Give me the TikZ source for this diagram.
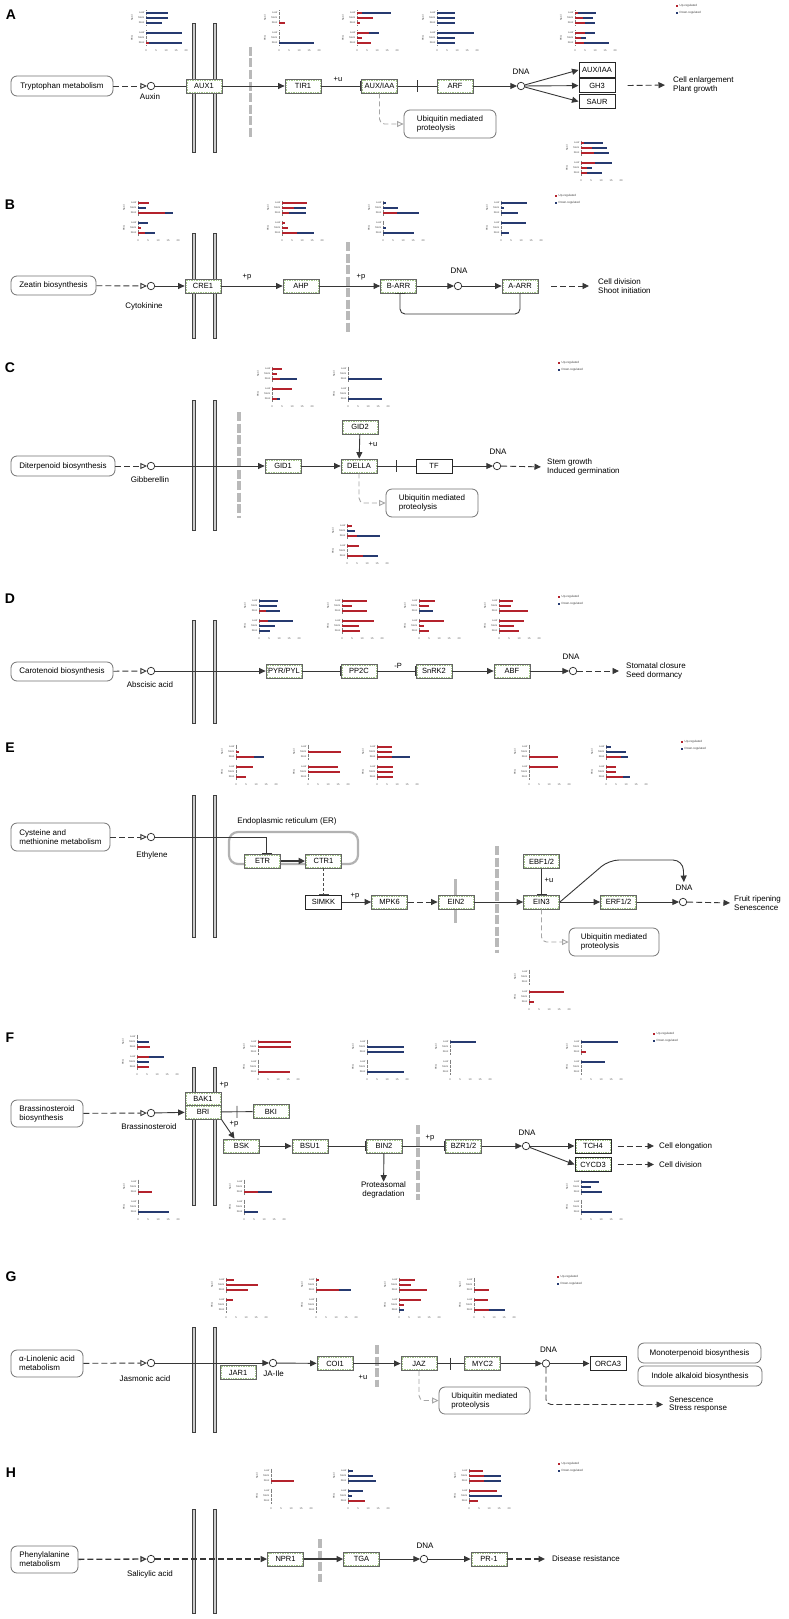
\documentclass[tikz,border=0pt]{standalone}
\usepackage{fontspec}
\setmainfont{Liberation Sans}
\usetikzlibrary{arrows.meta,decorations.markings}

\definecolor{upred}{RGB}{180,35,45}
\definecolor{downblue}{RGB}{38,58,112}
\definecolor{hlgreen}{RGB}{165,200,140}
\definecolor{edge}{RGB}{55,55,55}

\tikzset{
  pathbox/.style={draw=black!55, line width=0.8pt, rounded corners=6pt, fill=white, inner sep=2pt, font=\fontsize{8}{9}\selectfont},
  gene/.style={draw=black!60, line width=0.8pt, fill=white, minimum width=36pt, minimum height=14pt, inner sep=0pt, font=\fontsize{7.5}{8}\selectfont},
  geneplain/.style={gene, draw=black!85, line width=1pt},
  cpd/.style={circle, draw=black!85, line width=0.7pt, fill=white, minimum size=7.5pt, inner sep=0pt},
  lbl/.style={inner sep=0pt, font=\fontsize{8}{8.8}\selectfont},
  small/.style={inner sep=0pt, font=\fontsize{7.5}{8}\selectfont},
  panel/.style={inner sep=0pt, font=\fontsize{14}{16}\selectfont\bfseries},
  conn/.style={draw=edge, line width=0.9pt},
  act/.style={conn, -{Triangle[length=6.5pt,width=6pt]}},
  indact/.style={act, dash pattern=on 6pt off 3pt},
  inh/.style={conn, -{Bar[width=10pt,line width=0.9pt]}},
  feed/.style={conn, dash pattern=on 6pt off 3pt, -{Triangle[open,length=6.5pt,width=6pt]}},
  ubi/.style={draw=gray!70, line width=0.9pt, dash pattern=on 5pt off 3pt, -{Triangle[open,length=6.5pt,width=6pt]}, rounded corners=5pt},
  midbar/.style={postaction={decorate}, decoration={markings, mark=at position 0.5 with {\draw[edge, line width=0.9pt] (0,-6) -- (0,6);}}},
  membrane/.style={fill=gray!40, draw=gray!50!black, line width=0.5pt},
  sep/.style={draw=gray!55, line width=3.2pt, dash pattern=on 9pt off 2.5pt},
  hl/.style={draw=hlgreen, densely dotted, line width=0.7pt},
  chlab/.style={inner sep=0pt, font=\fontsize{2.6}{3}\selectfont, text=black!70},
  leglab/.style={inner sep=0pt, font=\fontsize{3}{3.5}\selectfont, text=black!75},
  upbar/.style={draw=upred, line width=1.2pt},
  downbar/.style={draw=downblue, line width=1.2pt},
}

% pair of membrane strips between two heights
\newcommand{\membranes}[2]{%
  \draw[membrane] (192.5,#1) rectangle (195.5,#2);
  \draw[membrane] (213.5,#1) rectangle (216.5,#2);}

% small expression chart: origin x, origin y, six red/blue bar lengths
\newcommand{\expchart}[3]{%
  \begin{scope}[shift={(#1,#2)}]
    \node[chlab, rotate=90] at (2,5) {NaCl};
    \node[chlab, rotate=90] at (2,25) {PEG};
    \foreach \lab/\yy in {Leaf/0,Stem/5,Root/10,Leaf/20,Stem/25,Root/30}
      \node[chlab, anchor=east] at (14.5,\yy) {\lab};
    \draw[black!50, densely dotted, line width=0.3pt] (16,-2.5) -- (16,12.5) (16,17.5) -- (16,32.5);
    \foreach \t [count=\k from 0] in {0,5,10,15,20}
      \node[chlab] at (16+10*\k,38) {\t};
    \foreach \rr/\bb [count=\i from 0] in {#3} {
      \pgfmathsetmacro{\yy}{5*\i+5*(\i>2)}
      \draw[upbar] (16,\yy) -- ++(\rr,0);
      \draw[downbar] (16+\rr,\yy) -- ++(\bb,0);
    }
  \end{scope}}

% colour key
\newcommand{\legendat}[2]{%
  \fill[upred] (#1,#2) ++(-0.8,-0.8) rectangle ++(1.6,1.6);
  \node[leglab, anchor=west] at (#1+2.5,#2) {Up-regulated};
  \fill[downblue] (#1,#2+7) ++(-0.8,-0.8) rectangle ++(1.6,1.6);
  \node[leglab, anchor=west] at (#1+2.5,#2+7) {Down-regulated};}

\begin{document}
\begin{tikzpicture}[x=1pt,y=-1pt]
\fill[white] (0,0) rectangle (789,1619);
\useasboundingbox (0,0) rectangle (789,1619);

%% ---------------- A: auxin ----------------
\node[panel] (labA) at (11,15) {A};
\draw[sep] (250.5,47) -- (250.5,137);
\membranes{23}{152}
\node[pathbox, minimum width=102pt, minimum height=20pt] (trp) at (62,86) {Tryptophan metabolism};
\node[cpd] (auxin) at (151,86) {};
\node[lbl] (auxinl) at (150,97) {Auxin};
\node[gene] (aux1) at (204,86) {AUX1};
\node[gene] (tir1) at (303,86) {TIR1};
\node[small] (plusuA) at (338,79) {+u};
\node[gene] (auxiaa) at (379.5,86) {AUX/IAA};
\node[gene] (arf) at (455,86) {ARF};
\node[cpd] (dnaA) at (521,86) {};
\node[lbl] (dnaAl) at (521,72) {DNA};
\node[geneplain] (auxiaa2) at (597,70) {AUX/IAA};
\node[geneplain] (gh3) at (597,85.5) {GH3};
\node[geneplain] (saur) at (597,101.5) {SAUR};
\node[lbl, anchor=west, align=left] (outA) at (673,85) {Cell enlargement\\Plant growth};
\node[pathbox, minimum width=92pt, minimum height=28pt, align=left] (ubiA) at (450,124) {Ubiquitin mediated\\proteolysis};
\draw[feed] (trp) -- (auxin);
\draw[conn] (auxin) -- (aux1);
\draw[act] (aux1) -- (tir1);
\draw[inh] (tir1) -- (auxiaa);
\draw[conn, midbar] (auxiaa) -- (arf);
\draw[act] (arf) -- (dnaA);
\draw[act] (dnaA) -- (auxiaa2.west);
\draw[act] (dnaA) -- (gh3);
\draw[act] (dnaA) -- (saur.west);
\draw[indact, shorten >=8pt] ([xshift=12pt]gh3.east) -- (outA.west);
\draw[ubi] (auxiaa.south) |- (ubiA.west);
\expchart{130}{13}{0/22,0/22,0/16,0/36,0/0,3/33}
\expchart{263}{13}{0/0,0/0,6/0,0/0,0/0,0/35}
\expchart{341}{13}{5/29,16/0,3/0,12/10,5/0,14/0}
\expchart{421}{13}{0/18,0/18,0/18,0/37,0/18,0/18}
\expchart{559}{13}{3/18,8/10,10/10,10/10,6/5,9/25}
\expchart{565}{143}{3/19,11/15,13/15,14/17,6/5,6/15}
\legendat{677}{6}

%% ---------------- B: cytokinine ----------------
\node[panel] (labB) at (10,205) {B};
\draw[sep] (348,242) -- (348,333);
\membranes{233}{338}
\node[pathbox, minimum width=85pt, minimum height=19pt] (zea) at (53.5,285.5) {Zeatin biosynthesis};
\node[cpd] (cyto) at (151,286) {};
\node[lbl] (cytol) at (144,306) {Cytokinine};
\node[gene] (cre1) at (203,286) {CRE1};
\node[small] (pB1) at (247,277) {+p};
\node[gene] (ahp) at (301,286) {AHP};
\node[small] (pB2) at (361,277) {+p};
\node[gene] (barr) at (398.5,286) {B-ARR};
\node[cpd] (dnaB) at (458,286) {};
\node[lbl] (dnaBl) at (459,271) {DNA};
\node[gene] (aarr) at (520,286) {A-ARR};
\node[lbl, anchor=west, align=left] (outB) at (598,286) {Cell division\\Shoot initiation};
\coordinate (fbB) at (400,314);
\draw[feed] (zea) -- (cyto);
\draw[act] (cyto) -- (cre1);
\draw[act] (cre1) -- (ahp);
\draw[act] (ahp) -- (barr);
\draw[act] (barr) -- (dnaB);
\draw[act] (dnaB) -- (aarr);
\draw[inh, rounded corners=5pt] (aarr.south) |- (fbB) -- (fbB |- barr.south);
\draw[indact, shorten >=9pt] ([xshift=13pt]aarr.east) -- (outB.west);
\expchart{122}{203}{11/0,0/8,27/8,0/10,3/0,7/10}
\expchart{266}{203}{25/0,12/12,7/17,3/0,6/0,15/17}
\expchart{367}{203}{0/3,0/15,14/22,0/0,0/3,0/31}
\expchart{485}{203}{0/26,0/3,0/17,0/25,0/0,0/8}
\legendat{556}{196}

%% ---------------- C: gibberellin ----------------
\node[panel] (labC) at (10,368) {C};
\draw[sep] (239,412) -- (239,518);
\membranes{400}{530}
\node[pathbox, minimum width=104pt, minimum height=20pt] (dit) at (63,466) {Diterpenoid biosynthesis};
\node[cpd] (gib) at (151,466) {};
\node[lbl] (gibl) at (150,480) {Gibberellin};
\node[gene] (gid1) at (283,466) {GID1};
\node[gene] (della) at (359,466) {DELLA};
\node[gene] (gid2) at (360,427) {GID2};
\node[small] (uC) at (373,444) {+u};
\node[geneplain] (tf) at (434,466) {TF};
\node[cpd] (dnaC) at (497,466) {};
\node[lbl] (dnaCl) at (498,452) {DNA};
\node[lbl, anchor=west, align=left] (outC) at (547,467) {Stem growth\\Induced germination};
\node[pathbox, minimum width=92pt, minimum height=28pt, align=left] (ubiC) at (432,503) {Ubiquitin mediated\\proteolysis};
\draw[feed] (dit) -- (gib);
\draw[act] (gib) -- (gid1);
\draw[act] (gid1) -- (della);
\draw[act] (gid2) -- (della);
\draw[conn, midbar] (della) -- (tf);
\draw[act] (tf) -- (dnaC);
\draw[indact, shorten >=6pt] (dnaC) -- (outC.west);
\draw[ubi] (della.south) |- (ubiC.west);
\expchart{256}{369}{10/0,5/0,8/17,20/0,0/0,5/3}
\expchart{332}{369}{0/0,0/0,0/34,0/0,0/0,0/34}
\expchart{331}{526}{5/0,0/8,10/23,12/0,0/0,16/15}
\legendat{559}{363}

%% ---------------- D: abscisic acid ----------------
\node[panel] (labD) at (10,599) {D};
\membranes{620}{723}
\node[pathbox, minimum width=102pt, minimum height=19pt] (car) at (62,671.5) {Carotenoid biosynthesis};
\node[cpd] (aba) at (151,671) {};
\node[lbl] (abal) at (150,685) {Abscisic acid};
\node[gene] (pyr) at (284,671) {PYR/PYL};
\node[gene] (pp2c) at (359,671) {PP2C};
\node[small] (pD) at (398,666) {-P};
\node[gene] (snrk2) at (434,671) {SnRK2};
\node[gene] (abf) at (512,671) {ABF};
\node[cpd] (dnaD) at (573,671) {};
\node[lbl] (dnaDl) at (571,657) {DNA};
\node[lbl, anchor=west, align=left] (outD) at (626,671) {Stomatal closure\\Seed dormancy};
\draw[feed] (car) -- (aba);
\draw[act] (aba) -- (pyr);
\draw[inh] (pyr) -- (pp2c);
\draw[inh] (pp2c) -- (snrk2);
\draw[act] (snrk2) -- (abf);
\draw[act] (abf) -- (dnaD);
\draw[indact, shorten >=7pt] (dnaD) -- (outD.west);
\expchart{243}{601}{0/19,0/18,7/14,9/25,0/16,0/11}
\expchart{326}{601}{25/0,10/0,25/0,32/0,17/0,18/0}
\expchart{403}{601}{16/0,10/0,0/14,25/0,5/0,10/0}
\expchart{483}{601}{14/0,12/0,29/0,25/0,15/0,20/0}
\legendat{559}{597}

%% ---------------- E: ethylene ----------------
\node[panel] (labE) at (10,748) {E};
\draw[sep] (497,846) -- (497,953);
\membranes{795}{937}
\node[draw=gray!60, line width=2.2pt, rounded corners=9pt, minimum width=129pt, minimum height=32pt] (er) at (293.5,848) {};
\node[lbl] (erl) at (287,821) {Endoplasmic reticulum (ER)};
\draw[gray!55, line width=3pt] (455,879) -- (455,923);
\node[pathbox, minimum width=99pt, minimum height=28pt, align=left] (cys) at (60.5,837) {Cysteine and\\methionine metabolism};
\node[cpd] (eth) at (151,837) {};
\node[lbl] (ethl) at (152,855) {Ethylene};
\node[gene] (etr) at (262.5,861) {ETR};
\node[gene] (ctr1) at (323.5,861) {CTR1};
\node[geneplain] (simkk) at (323.5,902) {SIMKK};
\node[small] (pE) at (355,896) {+p};
\node[gene] (mpk6) at (389.5,902) {MPK6};
\node[gene] (ein2) at (456,902) {EIN2};
\node[gene] (ein3) at (541.5,902) {EIN3};
\node[gene] (ebf) at (541.5,861.5) {EBF1/2};
\node[small] (uE) at (549,880) {+u};
\node[gene] (erf) at (618.5,902) {ERF1/2};
\node[cpd] (dnaE) at (683,902) {};
\node[lbl] (dnaEl) at (684,888) {DNA};
\node[lbl, anchor=west, align=left] (outE) at (734,903) {Fruit ripening\\Senescence};
\node[pathbox, minimum width=90pt, minimum height=28pt, align=left] (ubiE) at (614,942) {Ubiquitin mediated\\proteolysis};
\draw[feed] (cys) -- (eth);
\draw[inh] (eth) -| ([xshift=4pt]etr.north);
\draw[act, line width=1.8pt] (etr) -- (ctr1);
\draw[inh, dash pattern=on 3pt off 2pt, draw=gray!60!black] (ctr1) -- (simkk);
\draw[act] (simkk) -- (mpk6);
\draw[indact] (mpk6) -- (ein2);
\draw[act] (ein2) -- (ein3);
\draw[inh] (ebf) -- (ein3);
\draw[act] (ein3) -- (erf);
\draw[act] (erf) -- (dnaE);
\draw[act, rounded corners=10pt, shorten >=3pt] (ein3.east) -- (609,860) -- (683,860) -- (dnaEl.north);
\draw[indact, shorten >=4pt] (dnaE) -- (outE.west);
\draw[ubi] (ein3.south) |- (ubiE.west);
\expchart{220}{747}{0/0,3/0,18/10,17/0,0/0,10/0}
\expchart{292}{747}{0/0,33/0,0/0,30/0,32/0,0/0}
\expchart{361}{747}{15/0,15/0,15/18,16/0,16/0,16/0}
\expchart{513}{747}{0/0,0/0,29/0,29/0,0/0,0/0}
\expchart{590}{747}{0/5,0/20,15/7,10/0,10/0,17/7}
\expchart{513}{972}{0/0,0/0,0/0,35/0,0/0,5/0}
\legendat{682}{742}

%% ---------------- F: brassinosteroid ----------------
\node[panel] (labF) at (10,1038) {F};
\draw[sep] (418,1125) -- (418,1200);
\membranes{1067}{1205}
\node[pathbox, minimum width=72pt, minimum height=27pt, align=left] (brs) at (47,1113.5) {Brassinosteroid\\biosynthesis};
\node[cpd] (brc) at (151,1113) {};
\node[lbl] (brcl) at (149,1127) {Brassinosteroid};
\node[gene, minimum height=13pt] (bak1) at (203,1098.5) {BAK1};
\node[gene] (bri) at (203,1112) {BRI};
\node[small] (pF1) at (224,1085) {+p};
\node[gene] (bki) at (271,1111.5) {BKI};
\node[small] (pF2) at (234,1124) {+p};
\node[gene] (bsk) at (241.5,1146) {BSK};
\node[gene] (bsu1) at (310,1146) {BSU1};
\node[gene] (bin2) at (384,1146) {BIN2};
\node[lbl, align=center] (prot) at (383.5,1190) {Proteasomal\\degradation};
\node[small] (pF3) at (430,1138) {+p};
\node[gene] (bzr) at (463.5,1146) {BZR1/2};
\node[cpd] (dnaF) at (526,1146) {};
\node[lbl] (dnaFl) at (527,1133) {DNA};
\node[geneplain] (tch4) at (593,1146) {TCH4};
\node[geneplain] (cycd3) at (593,1164.5) {CYCD3};
\node[lbl, anchor=west] (outF1) at (659,1146) {Cell elongation};
\node[lbl, anchor=west] (outF2) at (659,1164.5) {Cell division};
\draw[feed] (brs) -- (brc);
\draw[act] (brc) -- (bri);
\draw[conn, midbar] (bri) -- (bki);
\draw[act] (bri.south east) -- ([xshift=-7pt]bsk.north);
\draw[act] (bsk) -- (bsu1);
\draw[inh] (bsu1) -- (bin2);
\draw[act] (bin2) -- (prot);
\draw[inh] (bin2) -- (bzr);
\draw[act] (bzr) -- (dnaF);
\draw[act] (dnaF) -- (tch4);
\draw[act] (dnaF) -- (cycd3.west);
\draw[indact, shorten >=5pt] ([xshift=6pt]tch4.east) -- (outF1.west);
\draw[indact, shorten >=5pt] ([xshift=6pt]cycd3.east) -- (outF2.west);
\expchart{121}{1037}{0/0,0/12,13/0,12/15,0/12,12/0}
\expchart{242}{1042}{33/0,33/0,0/0,0/0,0/0,32/0}
\expchart{351}{1042}{0/0,0/37,0/37,0/0,0/0,0/37}
\expchart{434}{1042}{0/26,0/0,0/0,0/0,0/0,0/0}
\expchart{565}{1042}{0/37,0/0,5/0,0/24,0/0,0/0}
\expchart{122}{1182}{0/0,0/0,14/0,0/0,0/0,0/31}
\expchart{228}{1182}{0/0,0/0,14/14,0/0,0/0,0/14}
\expchart{565}{1182}{0/18,0/10,0/21,0/0,0/0,0/31}
\legendat{654}{1034}

%% ---------------- G: jasmonic acid ----------------
\node[panel] (labG) at (11,1277) {G};
\draw[sep] (377,1345) -- (377,1387);
\membranes{1327}{1432}
\node[pathbox, minimum width=72pt, minimum height=27pt, align=left] (lin) at (47,1363.5) {α-Linolenic acid\\metabolism};
\node[cpd] (ja) at (151,1363) {};
\node[lbl] (jal) at (145,1379) {Jasmonic acid};
\node[gene] (jar1) at (238,1372.5) {JAR1};
\node[cpd] (jaile) at (273,1363) {};
\node[lbl] (jailel) at (273.5,1374) {JA-Ile};
\node[gene] (coi1) at (335,1363.5) {COI1};
\node[small] (uG) at (363,1377) {+u};
\node[gene] (jaz) at (419,1363.5) {JAZ};
\node[gene] (myc2) at (482.5,1363.5) {MYC2};
\node[cpd] (dnaG) at (546,1363.5) {};
\node[lbl] (dnaGl) at (548.5,1350) {DNA};
\node[geneplain] (orca3) at (608,1363.5) {ORCA3};
\node[pathbox, minimum width=123pt, minimum height=20pt] (mono) at (699.5,1353) {Monoterpenoid biosynthesis};
\node[pathbox, minimum width=124pt, minimum height=20pt] (indole) at (700,1376) {Indole alkaloid biosynthesis};
\node[lbl, anchor=west, align=left] (outG) at (669,1404.5) {Senescence\\Stress response};
\node[pathbox, minimum width=91pt, minimum height=27pt, align=left] (ubiG) at (484.5,1400.5) {Ubiquitin mediated\\proteolysis};
\draw[feed] (lin) -- (ja);
\draw[act] (ja) -- (jaile);
\draw[act] (jaile) -- (coi1);
\draw[act] (coi1) -- (jaz);
\draw[conn, midbar] (jaz) -- (myc2);
\draw[act] (myc2) -- (dnaG);
\draw[act] (dnaG) -- (orca3);
\draw[indact, rounded corners=5pt, shorten >=6pt] (dnaG.south) |- (outG.west);
\draw[ubi] (jaz.south) |- (ubiG.west);
\expchart{210}{1280}{8/0,32/0,22/0,7/0,0/0,0/0}
\expchart{300}{1280}{3/0,0/0,23/12,0/0,0/0,0/0}
\expchart{383}{1280}{16/0,12/0,28/0,22/0,5/0,0/5}
\expchart{458}{1280}{0/0,0/0,15/0,14/0,0/0,15/16}
\legendat{558}{1277}

%% ---------------- H: salicylic acid ----------------
\node[panel] (labH) at (11,1473) {H};
\draw[sep] (320,1539) -- (320,1582);
\membranes{1509}{1613}
\node[pathbox, minimum width=67pt, minimum height=27pt, align=left] (phe) at (44.5,1559.5) {Phenylalanine\\metabolism};
\node[cpd] (sa) at (151,1559) {};
\node[lbl] (sal) at (150,1574) {Salicylic acid};
\node[gene] (npr1) at (285.5,1559) {NPR1};
\node[gene] (tga) at (361.5,1559) {TGA};
\node[cpd] (dnaH) at (424,1559) {};
\node[lbl] (dnaHl) at (425,1546) {DNA};
\node[gene] (pr1) at (489,1559) {PR-1};
\node[lbl, anchor=west] (outH) at (552,1559) {Disease resistance};
\draw[feed, line width=1.3pt] (phe) -- (sa);
\draw[indact, line width=1.3pt] (sa) -- (npr1);
\draw[act, line width=1.2pt] (npr1) -- (tga);
\draw[act] (tga) -- (dnaH);
\draw[act] (dnaH) -- (pr1);
\draw[indact, line width=1.3pt, shorten >=7pt] (pr1) -- (outH.west);
\expchart{255}{1471}{0/0,0/0,23/0,0/0,0/0,0/0}
\expchart{332}{1471}{0/5,0/25,0/28,0/15,0/4,17/0}
\expchart{453}{1471}{14/0,15/17,15/17,28/0,0/33,9/0}
\legendat{559}{1464}

%% green inner rims of the highlighted gene boxes
\foreach \g in {aux1,tir1,auxiaa,arf,cre1,ahp,barr,aarr,gid1,della,gid2,pyr,pp2c,snrk2,abf,etr,ctr1,mpk6,ein2,ein3,ebf,erf,bak1,bri,bki,bsk,bsu1,bin2,bzr,tch4,cycd3,jar1,coi1,jaz,myc2,npr1,tga,pr1}
  \draw[hl] ([shift={(1.4,1.4)}]\g.north west) rectangle ([shift={(-1.4,-1.4)}]\g.south east);
\end{tikzpicture}
\end{document}
